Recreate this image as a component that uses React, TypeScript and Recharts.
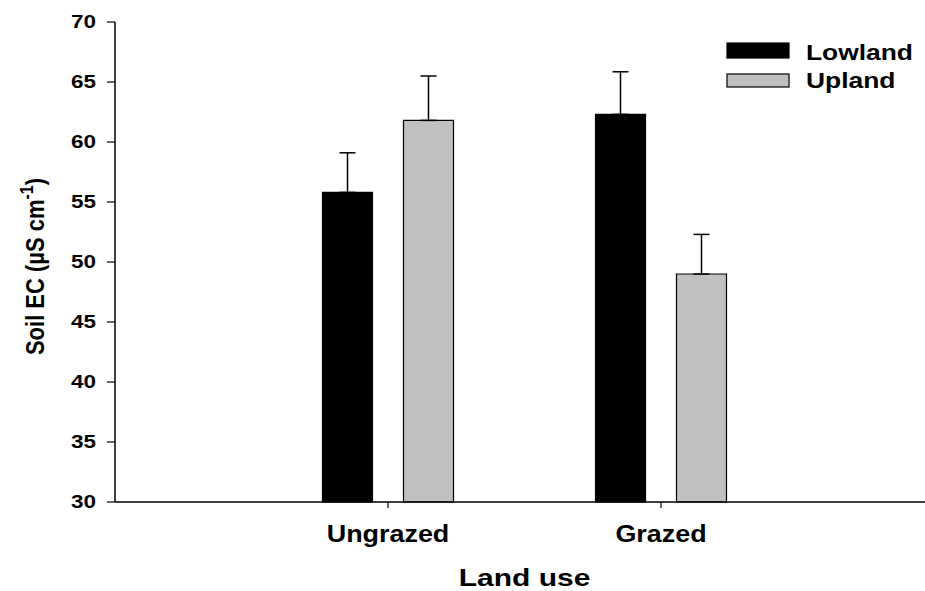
import React from 'react';
import { BarChart, Bar, XAxis, YAxis, ErrorBar, Customized } from 'recharts';

const categories = ['Ungrazed', 'Grazed'];
const seriesNames = ['Lowland', 'Upland'];
const lowland = [55.8, 62.3];
const upland = [61.8, 49.0];
const lowlandErr = [3.3, 3.55];
const uplandErr = [3.7, 3.3];
const yTicks = [30, 35, 40, 45, 50, 55, 60, 65, 70];
const seriesColors = ['#000000', '#c0c0c0'];

const data = categories.map((c, i) => ({
  name: c,
  Lowland: lowland[i],
  Upland: upland[i],
  lowErr: [0, lowlandErr[i]],
  upErr: [0, uplandErr[i]],
}));

const FONT = '"Liberation Sans", Arial, Helvetica, sans-serif';

const YTick = (props: any) => {
  const { x, y, payload } = props;
  return (
    <text
      transform={`translate(${x},${y}) scale(1.25,1)`}
      textAnchor="end"
      dy={6.4}
      fontSize={18}
      fontWeight="bold"
      fontFamily={FONT}
      fill="#000"
    >
      {payload.value}
    </text>
  );
};

const XTick = (props: any) => {
  const { x, y, payload } = props;
  return (
    <text
      transform={`translate(${x},${y + 32}) scale(1.17,1)`}
      textAnchor="middle"
      fontSize={23}
      fontWeight="bold"
      fontFamily={FONT}
      fill="#000"
    >
      {payload.value}
    </text>
  );
};

const Decorations = () => (
  <g>
    <text
      transform="translate(44,266.5) scale(1.2,1) rotate(-90)"
      textAnchor="middle"
      fontSize={22}
      fontWeight="bold"
      fontFamily={FONT}
      fill="#000"
    >
      Soil EC (µS cm
      <tspan dy={-9} fontSize={16}>-1</tspan>
      <tspan dy={9}>)</tspan>
    </text>
    <text
      transform="translate(524.5,585.5) scale(1.25,1)"
      textAnchor="middle"
      fontSize={24}
      fontWeight="bold"
      fontFamily={FONT}
      fill="#000"
    >
      Land use
    </text>
    {seriesNames.map((n, i) => (
      <g key={n}>
        <rect
          x={727}
          y={i === 0 ? 43 : 74}
          width={62}
          height={i === 0 ? 15 : 13}
          fill={seriesColors[i]}
          stroke="#000"
          strokeWidth={1.2}
        />
        <text
          transform={`translate(806,${i === 0 ? 60 : 88}) scale(1.2,1)`}
          fontSize={22}
          fontWeight="bold"
          fontFamily={FONT}
          fill="#000"
        >
          {n}
        </text>
      </g>
    ))}
  </g>
);

export default function App() {
  return (
    <div style={{ position: 'absolute', left: 0, top: 0, width: 925, height: 591, background: '#fff' }}>
      <BarChart
        width={925}
        height={591}
        data={data}
        margin={{ top: 22, right: 0, bottom: 39, left: 55 }}
        barSize={50}
        barGap={31}
      >
        <XAxis
          dataKey="name"
          height={50}
          padding={{ left: 136.5, right: 127.5 }}
          axisLine={{ stroke: '#000', strokeWidth: 1.5 }}
          tickLine={{ stroke: '#000', strokeWidth: 1.2 }}
          tickSize={6}
          tickMargin={2}
          tick={XTick}
          interval={0}
        />
        <YAxis
          width={60}
          type="number"
          domain={[30, 70]}
          ticks={yTicks}
          interval={0}
          axisLine={{ stroke: '#000', strokeWidth: 1.5 }}
          tickLine={{ stroke: '#000', strokeWidth: 1.2 }}
          tickSize={8}
          tickMargin={11}
          tick={YTick}
        />
        <Bar dataKey="Lowland" fill={seriesColors[0]} stroke="#000" strokeWidth={1.2} isAnimationActive={false}>
          <ErrorBar dataKey="lowErr" direction="y" width={8} stroke="#000" strokeWidth={1.5} isAnimationActive={false} />
        </Bar>
        <Bar dataKey="Upland" fill={seriesColors[1]} stroke="#000" strokeWidth={1.2} isAnimationActive={false}>
          <ErrorBar dataKey="upErr" direction="y" width={8} stroke="#000" strokeWidth={1.5} isAnimationActive={false} />
        </Bar>
        <Customized component={Decorations} />
      </BarChart>
    </div>
  );
}
